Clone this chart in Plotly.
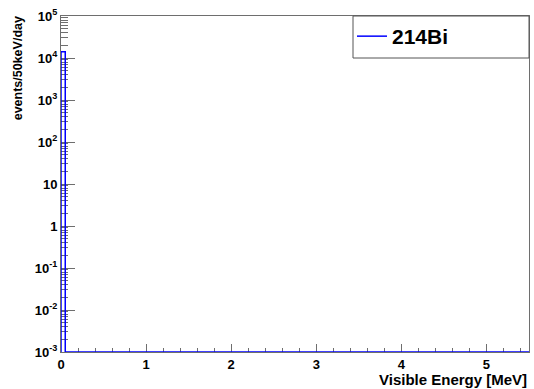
import numpy as np
import plotly.graph_objects as go

# 214Bi visible-energy histogram, 50 keV bins from 0 to 5.5 MeV
bin_width = 0.05
n_bins = 110
counts = [14000.0] + [0.0] * (n_bins - 1)   # events/50keV/day

y_min_exp, y_max_exp = -3, 5
x_range = [0, 5.5]

y_tick_vals = [1e-3, 1e-2, 1e-1, 1, 10, 1e2, 1e3, 1e4, 1e5]
y_tick_text = ["10<sup>-3</sup>", "10<sup>-2</sup>", "10<sup>-1</sup>", "1", "10",
               "10<sup>2</sup>", "10<sup>3</sup>", "10<sup>4</sup>", "10<sup>5</sup>"]
x_tick_vals = [0, 1, 2, 3, 4, 5]

# step outline: empty bins sit on the floor of the log axis
floor = 10.0 ** y_min_exp
edges = np.arange(n_bins + 1) * bin_width
vals = np.where(np.array(counts) > 0, counts, floor)
xs = [edges[0]]
ys = [floor]
for i in range(n_bins):
    xs += [edges[i], edges[i + 1]]
    ys += [vals[i], vals[i]]
xs.append(edges[-1])
ys.append(floor)

FONT = "Liberation Sans"
AX = "#6e6e6e"

fig = go.Figure()
fig.add_trace(go.Scatter(
    x=xs, y=ys, mode="lines", name="214Bi",
    line=dict(color="#0000ff", width=1.5),
    cliponaxis=False,
))

fig.update_layout(
    width=534, height=389,
    margin=dict(l=61, r=5, t=16, b=37),
    paper_bgcolor="white", plot_bgcolor="white",
    showlegend=True,
    legend=dict(
        x=(352 - 61) / 468, y=1, xanchor="left", yanchor="top",
        bgcolor="rgba(0,0,0,0)", borderwidth=0,
        font=dict(family=FONT, size=21, color="black", weight="bold"),
        itemwidth=30,
    ),
    xaxis=dict(
        range=x_range, showgrid=False, zeroline=False,
        showline=True, linecolor=AX, linewidth=1, mirror=True,
        ticks="inside", ticklen=8, tickcolor=AX, tickwidth=1,
        tickvals=x_tick_vals,
        tickfont=dict(family=FONT, size=13, color="black", weight="bold"),
        minor=dict(ticks="inside", ticklen=4, tickcolor=AX, dtick=0.2, showgrid=False),
        layer="below traces",
    ),
    yaxis=dict(
        type="log", range=[y_min_exp, y_max_exp], showgrid=False, zeroline=False,
        showline=True, linecolor=AX, linewidth=1, mirror=True,
        ticks="inside", ticklen=14, tickcolor=AX, tickwidth=1,
        tickvals=y_tick_vals, ticktext=y_tick_text,
        tickfont=dict(family=FONT, size=13, color="black", weight="bold"),
        minor=dict(ticks="inside", ticklen=7, tickcolor=AX, dtick="D1", showgrid=False),
        layer="below traces",
    ),
    shapes=[dict(
        type="rect", xref="paper", yref="paper",
        x0=(353 - 61) / 468, x1=1, y0=1 - 42 / 336, y1=1,
        line=dict(color="#555555", width=1), fillcolor="rgba(0,0,0,0)",
    )],
    annotations=[
        dict(text="Visible Energy [MeV]", xref="paper", yref="paper",
             x=1, y=-(379 - 352) / 336, xanchor="right", yanchor="middle",
             showarrow=False,
             font=dict(family=FONT, size=15, color="black", weight="bold")),
        dict(text="events/50keV/day", xref="paper", yref="paper",
             x=(18 - 61) / 468, y=1.005, xanchor="center", yanchor="top",
             textangle=-90, showarrow=False,
             font=dict(family=FONT, size=12.5, color="black", weight="bold")),
    ],
)

fig.write_html("out.html")
